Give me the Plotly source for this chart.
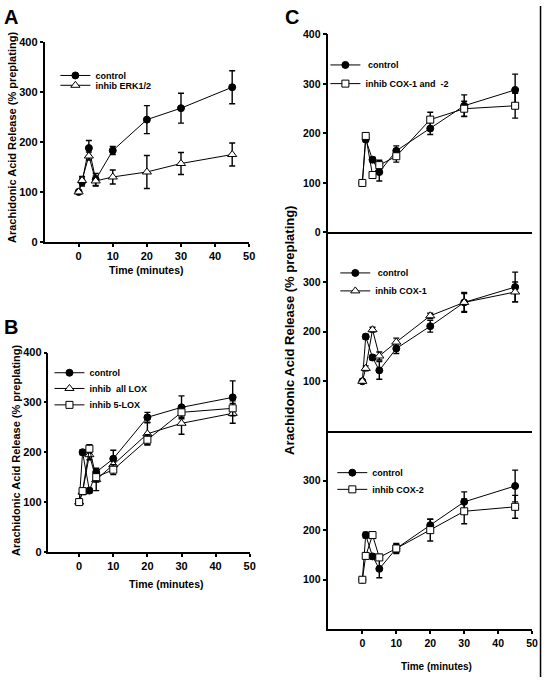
import plotly.graph_objects as go

W, H = 549, 683

time = [0, 1, 3, 5, 10, 20, 30, 45]

# Panel A
a_ctrl = [100, 120, 188, 125, 183, 245, 268, 310]
a_ctrl_err = [0, 8, 15, 12, 8, 28, 30, 33]
a_erk = [100, 123, 172, 122, 130, 140, 157, 175]
a_erk_err = [0, 8, 8, 10, 14, 33, 22, 23]

# Panel B
b_ctrl = [100, 200, 123, 160, 187, 270, 290, 310]
b_ctrl_err = [4, 5, 5, 8, 17, 10, 23, 33]
b_lox = [100, 120, 195, 145, 175, 237, 258, 278]
b_lox_err = [4, 5, 10, 22, 10, 22, 22, 20]
b_5lox = [100, 122, 207, 150, 165, 225, 280, 288]
b_5lox_err = [4, 5, 8, 10, 10, 10, 10, 15]

# Panel C top
c1_ctrl = [100, 188, 147, 122, 165, 210, 256, 288]
c1_ctrl_err = [0, 5, 5, 18, 10, 12, 22, 32]
c1_cox12 = [100, 195, 116, 136, 154, 228, 250, 256]
c1_cox12_err = [0, 5, 5, 10, 12, 15, 15, 25]

# Panel C middle
c2_ctrl = [100, 190, 148, 122, 166, 211, 259, 290]
c2_ctrl_err = [0, 5, 5, 18, 10, 12, 20, 30]
c2_cox1 = [100, 126, 204, 151, 179, 232, 259, 280]
c2_cox1_err = [0, 5, 5, 8, 8, 5, 18, 20]

# Panel C bottom
c3_ctrl = [100, 190, 147, 122, 163, 210, 257, 289]
c3_ctrl_err = [0, 6, 5, 18, 10, 12, 20, 32]
c3_cox2 = [100, 148, 190, 145, 163, 200, 238, 247]
c3_cox2_err = [0, 5, 6, 6, 8, 22, 25, 23]

x_ticks = [0, 10, 20, 30, 40, 50]
y_ticks_full = [0, 100, 200, 300, 400]
y_ticks_inner = [100, 200, 300]

FONT = "Liberation Sans"


def px(x):
    return x / W


def py(y):
    return 1 - y / H


MARKERS = {
    "circle": dict(symbol="circle", size=7, color="black", line=dict(color="black", width=1)),
    "triangle": dict(symbol="triangle-up", size=8, color="white", line=dict(color="black", width=1)),
    "square": dict(symbol="square", size=7, color="white", line=dict(color="black", width=1)),
}

fig = go.Figure()


def add(y, err, name, kind, ax, legend):
    fig.add_trace(go.Scatter(
        x=time, y=y, name=name, mode="lines+markers",
        line=dict(color="black", width=1),
        marker=MARKERS[kind],
        error_y=dict(type="data", array=err, visible=True, color="black", thickness=1.4, width=3),
        xaxis="x" + ax, yaxis="y" + ax, legend=legend, showlegend=True,
    ))


add(a_ctrl, a_ctrl_err, "control", "circle", "", "legend")
add(a_erk, a_erk_err, "inhib ERK1/2", "triangle", "", "legend2")
add(b_ctrl, b_ctrl_err, "control", "circle", "2", "legend3")
add(b_lox, b_lox_err, "inhib\u00a0 all LOX", "triangle", "2", "legend4")
add(b_5lox, b_5lox_err, "inhib 5-LOX", "square", "2", "legend5")
add(c1_ctrl, c1_ctrl_err, "\u00a0control", "circle", "3", "legend6")
add(c1_cox12, c1_cox12_err, "inhib COX-1 and\u00a0 -2", "square", "3", "legend7")
add(c2_ctrl, c2_ctrl_err, "\u00a0control", "circle", "4", "legend8")
add(c2_cox1, c2_cox1_err, "inhib COX-1", "triangle", "4", "legend9")
add(c3_ctrl, c3_ctrl_err, "control", "circle", "5", "legend10")
add(c3_cox2, c3_cox2_err, "inhib COX-2", "square", "5", "legend11")

tickfont = dict(family=FONT, size=11, color="black", weight="bold")
base_axis = dict(showline=True, linecolor="black", linewidth=1.5, ticks="outside", ticklen=3,
                 tickwidth=1.5, tickcolor="black", showgrid=False, zeroline=False,
                 tickfont=tickfont, fixedrange=True)

layout = dict(
    width=W, height=H, autosize=False,
    margin=dict(l=0, r=0, t=0, b=0),
    paper_bgcolor="white", plot_bgcolor="white",
    font=dict(family=FONT, color="black", weight="bold"),
)

# Panel A axes
layout["xaxis"] = dict(base_axis, domain=[px(45), px(252)], range=[-10, 50], tickvals=x_ticks, anchor="y")
layout["yaxis"] = dict(base_axis, domain=[py(240), py(37)], range=[0, 400], tickvals=y_ticks_full, anchor="x")
# Panel B axes
layout["xaxis2"] = dict(base_axis, domain=[px(49), px(252.5)], range=[-9, 50], tickvals=x_ticks, anchor="y2")
layout["yaxis2"] = dict(base_axis, domain=[py(555.7), py(352.7)], range=[0, 400], tickvals=y_ticks_full, anchor="x2")
# Panel C axes
cdom = [px(332), px(538)]
cfont = dict(tickfont, size=10.5)
layout["xaxis3"] = dict(base_axis, domain=cdom, range=[-10, 50], ticks="", showticklabels=False, anchor="y3")
layout["xaxis4"] = dict(base_axis, domain=cdom, range=[-10, 50], ticks="", showticklabels=False, anchor="y4")
layout["xaxis5"] = dict(base_axis, domain=cdom, range=[-10, 50], tickvals=x_ticks, anchor="y5", tickfont=cfont)
layout["yaxis3"] = dict(base_axis, domain=[py(230.5), py(29)], range=[0, 400], tickvals=y_ticks_full,
                        anchor="x3", ticklen=4, tickfont=cfont)
layout["yaxis4"] = dict(base_axis, domain=[py(432.5), py(230.5)], range=[0, 400], tickvals=y_ticks_inner,
                        anchor="x4", ticklen=4, tickfont=cfont)
layout["yaxis5"] = dict(base_axis, domain=[py(634.5), py(432.5)], range=[0, 400], tickvals=y_ticks_inner,
                        anchor="x5", ticklen=4, tickfont=cfont)

leg_font = dict(family=FONT, size=9, color="black", weight="bold")


def leg(xp, yp):
    return dict(x=px(xp), y=py(yp), xanchor="left", yanchor="middle", bgcolor="rgba(0,0,0,0)",
                borderwidth=0, font=leg_font)


layout["legend"] = leg(56, 70.7)
layout["legend2"] = leg(56, 80.7)
layout["legend3"] = leg(50, 373.3)
layout["legend4"] = leg(50, 389.3)
layout["legend5"] = leg(50, 406)
layout["legend6"] = leg(329, 60)
layout["legend7"] = leg(329, 79)
layout["legend8"] = leg(339, 271.7)
layout["legend9"] = leg(339, 290)
layout["legend10"] = leg(336, 475)
layout["legend11"] = leg(336, 492)

fig.update_layout(**layout)

ytitle = "Arachidonic Acid Release (% preplating)"
xtitle = "Time (minutes)"


def ann(text, xp, yp, size, angle=0, xanchor="center"):
    fig.add_annotation(text=text, x=px(xp), y=py(yp), xref="paper", yref="paper", showarrow=False,
                       textangle=angle, xanchor=xanchor, yanchor="middle",
                       font=dict(family=FONT, size=size, color="black", weight="bold"))


ann("A", 2, 11, 20, xanchor="left")
ann("B", 2, 327, 20, xanchor="left")
ann("C", 286, 11, 20, xanchor="left")
ann(ytitle, 12, 133.5, 11, -90)
ann(ytitle, 16, 452, 11, -90)
ann(ytitle, 292, 330, 13, -90)
ann(xtitle, 147.5, 269, 10.5)
ann(xtitle, 168, 588, 10.5)
ann(xtitle, 441, 672, 10)

fig.add_shape(type="line", xref="paper", yref="paper", x0=px(546.5), x1=px(546.5), y0=0, y1=1,
              line=dict(color="black", width=1.5))

fig.write_html("out.html", post_script="document.body.style.margin='0px';",
               config={"displayModeBar": False})
